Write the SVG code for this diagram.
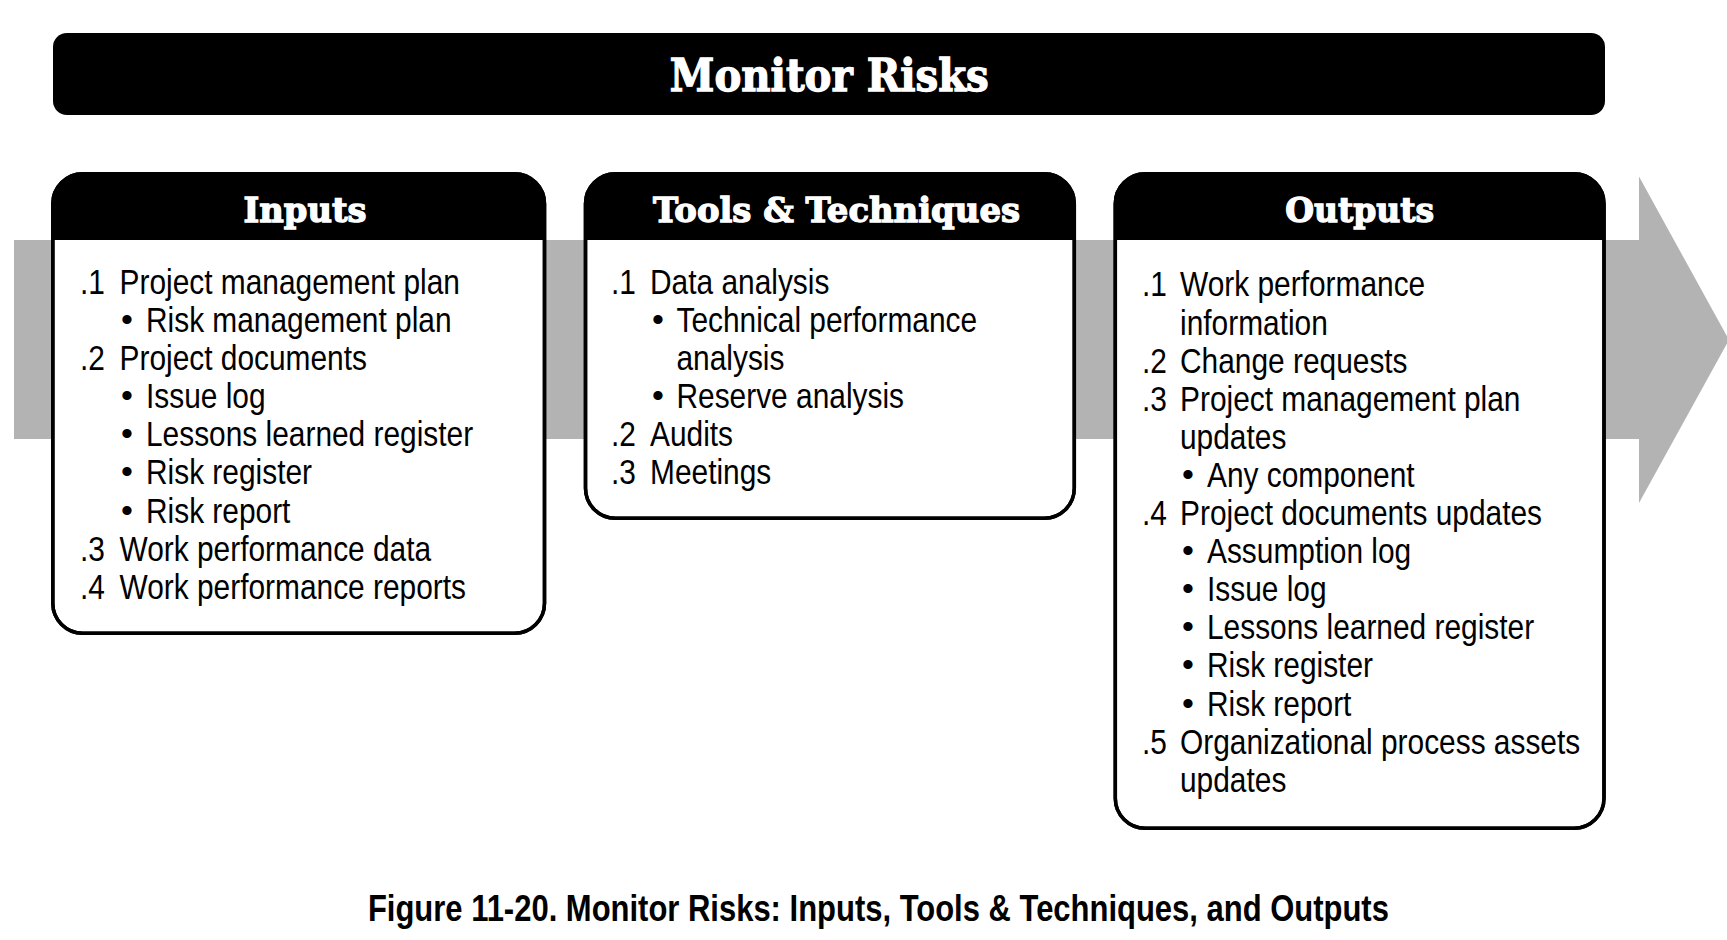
<svg xmlns="http://www.w3.org/2000/svg" width="1727" height="940" viewBox="0 0 1727 940">
<style>
.band{fill:#b3b3b3}
.box{fill:#fff;stroke:#000;stroke-width:3.5}
.frame{fill:none;stroke:#000;stroke-width:3.5}
.hdr{fill:#000}
.title{font-family:"DejaVu Serif",serif;font-weight:bold;fill:#fff;stroke:#fff;stroke-width:1.3;text-anchor:middle}
.t{font-family:"Liberation Sans",Arial,sans-serif;font-size:36px;fill:#000}
.b{font-family:"Liberation Sans",Arial,sans-serif;font-size:34px;fill:#000}
.cap{font-family:"Liberation Sans Narrow","Liberation Sans",sans-serif;font-weight:bold;font-size:36px;fill:#000;text-anchor:middle}
</style>
<rect width="1727" height="940" fill="#fff"/>
<g id="flow-arrow">
<path class="band" d="M14,240 H1639 V176.5 L1729,340 L1639,503 V439 H14 Z"/>
</g>
<g id="title-bar">
<rect x="53" y="33" width="1552" height="82" rx="14" fill="#000"/>
<text class="title" x="829.3" y="90.5" font-size="44" textLength="319" lengthAdjust="spacingAndGlyphs">Monitor Risks</text>
</g>
<g id="inputs">
<rect class="box" x="52.8" y="173.7" width="491.7" height="459.6" rx="30"/>
<path class="hdr" d="M52.8,240 V203.7 A30,30 0 0 1 82.8,173.7 H514.5 A30,30 0 0 1 544.5,203.7 V240 Z"/>
<rect class="frame" x="52.8" y="173.7" width="491.7" height="459.6" rx="30"/>
<text class="title" x="305" y="221.5" font-size="34" textLength="123" lengthAdjust="spacingAndGlyphs">Inputs</text>
<g transform="translate(80,0) scale(0.83,1)">
<text class="t" x="0" y="294">.1</text><text class="t" x="47.6" y="294">Project management plan</text>
<text class="t" x="79.5" y="332.1">Risk management plan</text>
<text class="t" x="0" y="370.2">.2</text><text class="t" x="47.6" y="370.2">Project documents</text>
<text class="t" x="79.5" y="408.3">Issue log</text>
<text class="t" x="79.5" y="446.4">Lessons learned register</text>
<text class="t" x="79.5" y="484.5">Risk register</text>
<text class="t" x="79.5" y="522.6">Risk report</text>
<text class="t" x="0" y="560.7">.3</text><text class="t" x="47.6" y="560.7">Work performance data</text>
<text class="t" x="0" y="598.8">.4</text><text class="t" x="47.6" y="598.8">Work performance reports</text>
</g>
<text class="b" x="121" y="331">•</text>
<text class="b" x="121" y="407.2">•</text>
<text class="b" x="121" y="445.3">•</text>
<text class="b" x="121" y="483.4">•</text>
<text class="b" x="121" y="521.5">•</text>
</g>
<g id="tools">
<rect class="box" x="585.5" y="173.7" width="488.8" height="344.6" rx="30"/>
<path class="hdr" d="M585.5,240 V203.7 A30,30 0 0 1 615.5,173.7 H1044.3 A30,30 0 0 1 1074.3,203.7 V240 Z"/>
<rect class="frame" x="585.5" y="173.7" width="488.8" height="344.6" rx="30"/>
<text class="title" x="836.5" y="221.5" font-size="34" textLength="367" lengthAdjust="spacingAndGlyphs">Tools &amp; Techniques</text>
<g transform="translate(611,0) scale(0.83,1)">
<text class="t" x="0" y="294">.1</text><text class="t" x="47" y="294">Data analysis</text>
<text class="t" x="78.9" y="332.1">Technical performance</text>
<text class="t" x="78.9" y="370.2">analysis</text>
<text class="t" x="78.9" y="408.3">Reserve analysis</text>
<text class="t" x="0" y="446.4">.2</text><text class="t" x="47" y="446.4">Audits</text>
<text class="t" x="0" y="484.5">.3</text><text class="t" x="47" y="484.5">Meetings</text>
</g>
<text class="b" x="652" y="331">•</text>
<text class="b" x="652" y="407.2">•</text>
</g>
<g id="outputs">
<rect class="box" x="1115.3" y="173.7" width="488.7" height="654.6" rx="30"/>
<path class="hdr" d="M1115.3,240 V203.7 A30,30 0 0 1 1145.3,173.7 H1574 A30,30 0 0 1 1604,203.7 V240 Z"/>
<rect class="frame" x="1115.3" y="173.7" width="488.7" height="654.6" rx="30"/>
<text class="title" x="1359.7" y="221.5" font-size="34" textLength="149" lengthAdjust="spacingAndGlyphs">Outputs</text>
<g transform="translate(1142,0) scale(0.83,1)">
<text class="t" x="0" y="296.5">.1</text><text class="t" x="45.8" y="296.5">Work performance</text>
<text class="t" x="45.8" y="334.6">information</text>
<text class="t" x="0" y="372.7">.2</text><text class="t" x="45.8" y="372.7">Change requests</text>
<text class="t" x="0" y="410.8">.3</text><text class="t" x="45.8" y="410.8">Project management plan</text>
<text class="t" x="45.8" y="448.9">updates</text>
<text class="t" x="78.3" y="487">Any component</text>
<text class="t" x="0" y="525.1">.4</text><text class="t" x="45.8" y="525.1">Project documents updates</text>
<text class="t" x="78.3" y="563.2">Assumption log</text>
<text class="t" x="78.3" y="601.3">Issue log</text>
<text class="t" x="78.3" y="639.4">Lessons learned register</text>
<text class="t" x="78.3" y="677.5">Risk register</text>
<text class="t" x="78.3" y="715.6">Risk report</text>
<text class="t" x="0" y="753.7">.5</text><text class="t" x="45.8" y="753.7">Organizational process assets</text>
<text class="t" x="45.8" y="791.8">updates</text>
</g>
<text class="b" x="1182" y="485.9">•</text>
<text class="b" x="1182" y="562.1">•</text>
<text class="b" x="1182" y="600.2">•</text>
<text class="b" x="1182" y="638.3">•</text>
<text class="b" x="1182" y="676.4">•</text>
<text class="b" x="1182" y="714.5">•</text>
</g>
<g id="connectors"></g>
<g id="caption">
<text class="cap" x="878.4" y="921" textLength="1021" lengthAdjust="spacingAndGlyphs">Figure 11-20. Monitor Risks: Inputs, Tools &amp; Techniques, and Outputs</text>
</g>
</svg>
